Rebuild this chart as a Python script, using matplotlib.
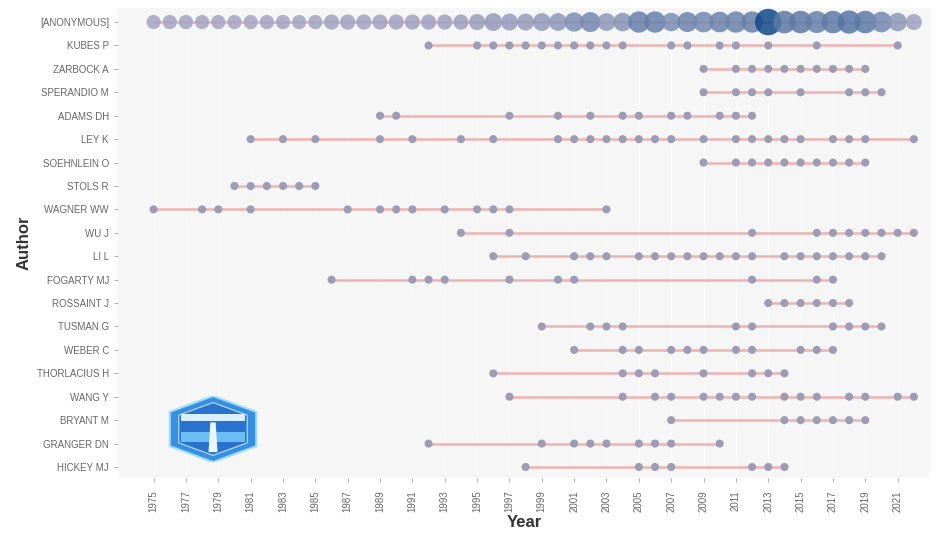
import matplotlib
matplotlib.use("Agg")
import matplotlib.pyplot as plt
import numpy as np
from matplotlib.colors import to_rgb
from matplotlib.patches import Polygon

# authors, top to bottom
authors = ["[ANONYMOUS]", "KUBES P", "ZARBOCK A", "SPERANDIO M", "ADAMS DH", "LEY K",
           "SOEHNLEIN O", "STOLS R", "WAGNER WW", "WU J", "LI L", "FOGARTY MJ",
           "ROSSAINT J", "TUSMAN G", "WEBER C", "THORLACIUS H", "WANG Y", "BRYANT M",
           "GRANGER DN", "HICKEY MJ"]

# [ANONYMOUS]: one point per year, with article count and citations per year
anon_years = list(range(1975, 2023))
anon_freq = [6, 6, 6, 6, 6, 6, 6, 6, 6, 6, 6,
             7, 7, 7, 7, 7, 7, 7, 7, 7,
             8, 10, 9, 9, 10, 10, 12, 13, 10, 11, 15, 15, 11, 13, 14, 14, 15, 15,
             24, 17, 17, 16, 17, 18, 17, 14, 11, 8]
anon_tcpy = [5, 5, 5, 5, 5, 5, 5, 6, 6, 6, 6,
             7, 7, 7, 8, 8, 8, 9, 9, 10,
             12, 15, 14, 14, 18, 20, 30, 35, 20, 25, 45, 45, 30, 40, 35, 40, 40, 45,
             100, 50, 50, 45, 50, 55, 50, 35, 20, 8]

# publication years of the other authors
kubes = [1992, 1995, 1996, 1997, 1998, 1999, 2000, 2001, 2002, 2003, 2004, 2007, 2008,
         2010, 2011, 2013, 2016, 2021]
zarbock = [2009, 2011, 2012, 2013, 2014, 2015, 2016, 2017, 2018, 2019]
sperandio = [2009, 2011, 2012, 2013, 2015, 2018, 2019, 2020]
adams = [1989, 1990, 1997, 2000, 2002, 2004, 2005, 2007, 2008, 2010, 2011, 2012]
ley = [1981, 1983, 1985, 1989, 1991, 1994, 1996, 2000, 2001, 2002, 2003, 2004, 2005,
       2006, 2007, 2009, 2011, 2012, 2013, 2014, 2015, 2017, 2018, 2019, 2022]
soehnlein = [2009, 2011, 2012, 2013, 2014, 2015, 2016, 2017, 2018, 2019]
stols = [1980, 1981, 1982, 1983, 1984, 1985]
wagner = [1975, 1978, 1979, 1981, 1987, 1989, 1990, 1991, 1993, 1995, 1996, 1997, 2003]
wu = [1994, 1997, 2012, 2016, 2017, 2018, 2019, 2020, 2021, 2022]
li = [1996, 1998, 2001, 2002, 2003, 2005, 2006, 2007, 2008, 2009, 2010, 2011, 2012,
      2014, 2015, 2016, 2017, 2018, 2019, 2020]
fogarty = [1986, 1991, 1992, 1993, 1997, 2000, 2001, 2012, 2016, 2017]
rossaint = [2013, 2014, 2015, 2016, 2017, 2018]
tusman = [1999, 2002, 2003, 2004, 2011, 2012, 2017, 2018, 2019, 2020]
weber = [2001, 2004, 2005, 2007, 2008, 2009, 2011, 2012, 2015, 2016, 2017]
thorlacius = [1996, 2004, 2005, 2006, 2009, 2012, 2013, 2014]
wang = [1997, 2004, 2006, 2007, 2009, 2010, 2011, 2012, 2014, 2015, 2016, 2018, 2019,
        2021, 2022]
bryant = [2007, 2014, 2015, 2016, 2017, 2018, 2019]
granger = [1992, 1999, 2001, 2002, 2003, 2005, 2006, 2007, 2010]
hickey = [1998, 2005, 2006, 2007, 2012, 2013, 2014]

author_years = [kubes, zarbock, sperandio, adams, ley, soehnlein, stols, wagner, wu, li,
                fogarty, rossaint, tusman, weber, thorlacius, wang, bryant, granger, hickey]

year_ticks = list(range(1975, 2023, 2))

plt.rcParams["font.family"] = ["Liberation Sans", "DejaVu Sans"]

fig = plt.figure(figsize=(9.37, 5.4), dpi=100)
ax = fig.add_axes([118 / 937, 1 - 478 / 540, (930 - 118) / 937, (478 - 8) / 540])
ax.set_facecolor("#f6f6f6")
for s in ax.spines.values():
    s.set_visible(False)

n = len(authors)
ypos = {a: n - 1 - i for i, a in enumerate(authors)}
low_col = np.array(to_rgb("#a3a5c2"))
high_col = np.array(to_rgb("#0f4a8a"))
line_color = "#efb3b3"


def size_of(freq):
    f = np.asarray(freq, dtype=float)
    return 34 + (f - 1) / (max(anon_freq) - 1) * 330


def color_of(tc):
    t = np.asarray(tc, dtype=float)
    w = (t - min(anon_tcpy)) / (max(anon_tcpy) - min(anon_tcpy))
    return [tuple(low_col + (high_col - low_col) * v) for v in w]


# anonymous row
y0 = ypos[authors[0]]
ax.plot([min(anon_years), max(anon_years)], [y0, y0], color=line_color, lw=1.8, zorder=1)
ax.scatter(anon_years, [y0] * len(anon_years), s=size_of(anon_freq),
           color=color_of(anon_tcpy), alpha=0.85, edgecolors="none", zorder=2)

# other authors
for name, yrs in zip(authors[1:], author_years):
    y = ypos[name]
    ax.plot([min(yrs), max(yrs)], [y, y], color=line_color, lw=1.8, zorder=1)
    ax.scatter(yrs, [y] * len(yrs), s=size_of([1] * len(yrs)), color="#9d9cb5",
               edgecolors="none", zorder=2)

ax.set_xlim(1972.8, 2023.0)
ax.set_ylim(-0.47, n - 1 + 0.6)
ax.set_yticks([ypos[a] for a in authors])
ax.set_yticklabels(authors)
ax.set_xticks(year_ticks)
ax.set_xticklabels([str(y) for y in year_ticks], rotation=90)
ax.grid(axis="x", color="white", lw=0.8)
ax.set_axisbelow(True)
ax.tick_params(axis="both", colors="#a0a0a0", length=3, width=0.6, labelsize=7,
               labelcolor="#666666")
ax.tick_params(axis="x", pad=6)
ax.set_xlabel("Year", fontsize=12, fontweight="bold", color="#333333", labelpad=2)
ax.set_ylabel("Author", fontsize=12, fontweight="bold", color="#333333", labelpad=4)

# hexagon logo in the lower left
lax = fig.add_axes([168 / 937, 1 - 462 / 540, 90 / 937, 66 / 540])
lax.set_xlim(0, 1)
lax.set_ylim(0, 1)
lax.axis("off")
hexv = [(0.5, 1.0), (0.98, 0.76), (0.98, 0.24), (0.5, 0.0), (0.02, 0.24), (0.02, 0.76)]
lax.add_patch(Polygon(hexv, closed=True, facecolor="#3a8ee0", edgecolor="#9bdcff", lw=1.5))
inner = [(0.5, 0.9), (0.88, 0.71), (0.88, 0.29), (0.5, 0.1), (0.12, 0.29), (0.12, 0.71)]
lax.add_patch(Polygon(inner, closed=True, facecolor="#2a72cc", edgecolor="#b5e6ff", lw=0.8))
lax.add_patch(Polygon([(0.14, 0.62), (0.86, 0.62), (0.86, 0.72), (0.14, 0.72)],
                      closed=True, facecolor="#d9f1ff", edgecolor="none"))
lax.add_patch(Polygon([(0.14, 0.30), (0.86, 0.30), (0.86, 0.45), (0.14, 0.45)],
                      closed=True, facecolor="#6cbdf3", edgecolor="none"))
lax.add_patch(Polygon([(0.45, 0.15), (0.55, 0.15), (0.53, 0.6), (0.47, 0.6)],
                      closed=True, facecolor="#e8f7ff", edgecolor="none"))

fig.savefig("out.png", dpi=100)
